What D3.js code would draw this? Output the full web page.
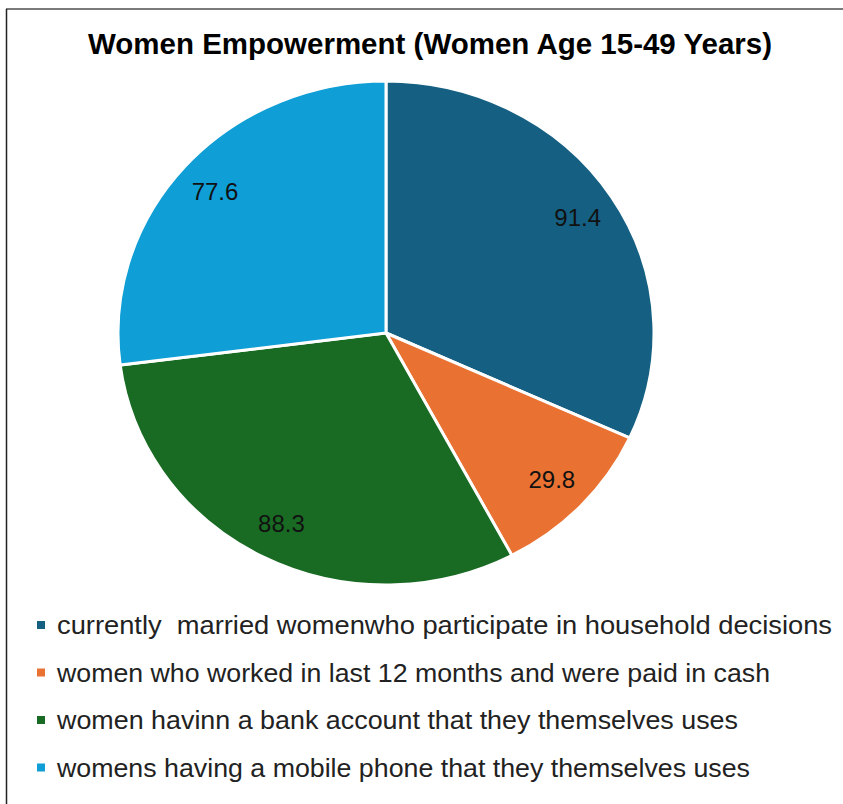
<!DOCTYPE html>
<html>
<head>
<meta charset="utf-8">
<script src="https://cdn.jsdelivr.net/npm/d3@7"></script>
<style>
  body { margin: 0; background: #fff; }
  svg { display: block; }
  text { white-space: pre; }
</style>
</head>
<body>
<div id="chart"></div>
<script>
// chart data
const title = "Women Empowerment (Women Age 15-49 Years)";
const categories = [
  "currently  married womenwho participate in household decisions",
  "women who worked in last 12 months and were paid in cash",
  "women havinn a bank account that they themselves uses",
  "womens having a mobile phone that they themselves uses"
];
const values = [91.4, 29.8, 88.3, 77.6];
const colors = ["#156082", "#E97132", "#196B24", "#0F9ED5"];

const width = 843, height = 804;
const cx = 386, cy = 333;
const rx = 268, ry = 252;   // pie looks a little squashed in the picture

const svg = d3.select("#chart").append("svg")
  .attr("width", width)
  .attr("height", height);

// chart frame (only top and left edges show)
svg.append("line")
  .attr("x1", 6).attr("y1", 9).attr("x2", width).attr("y2", 9)
  .attr("stroke", "#7a7a7a").attr("stroke-width", 2);
svg.append("line")
  .attr("x1", 6.5).attr("y1", 9).attr("x2", 6.5).attr("y2", height)
  .attr("stroke", "#222").attr("stroke-width", 1.5);

// title
svg.append("text")
  .attr("x", 430)
  .attr("y", 54)
  .attr("text-anchor", "middle")
  .attr("textLength", 684)
  .attr("lengthAdjust", "spacingAndGlyphs")
  .style("font-family", "'Liberation Sans Narrow', 'Liberation Sans', Arial, sans-serif")
  .style("font-weight", "bold")
  .style("font-size", "29px")
  .style("fill", "#000")
  .text(title);

// pie
const pie = d3.pie().sort(null).value(d => d);
const arcs = pie(values);
const arc = d3.arc().innerRadius(0).outerRadius(rx);
const labelArc = d3.arc().innerRadius(rx * 0.85).outerRadius(rx * 0.85);

const g = svg.append("g")
  .attr("transform", `translate(${cx},${cy}) scale(1,${ry / rx})`);

g.selectAll("path")
  .data(arcs)
  .enter()
  .append("path")
  .attr("d", arc)
  .attr("fill", (d, i) => colors[i])
  .attr("stroke", "#fff")
  .attr("stroke-width", 3)
  .attr("vector-effect", "non-scaling-stroke");

// data labels (kept out of the scaled group so text isn't squashed)
svg.selectAll(".dlabel")
  .data(arcs)
  .enter()
  .append("text")
  .attr("class", "dlabel")
  .attr("x", d => cx + labelArc.centroid(d)[0])
  .attr("y", d => cy + labelArc.centroid(d)[1] * ry / rx)
  .attr("text-anchor", "middle")
  .attr("dominant-baseline", "central")
  .style("font-family", "'Liberation Sans', Arial, sans-serif")
  .style("font-size", "24px")
  .style("fill", "#111")
  .text(d => d.data.toFixed(1));

// legend
const legendWidths = [775, 713, 681, 693];
const legend = svg.selectAll(".legend")
  .data(categories)
  .enter()
  .append("g")
  .attr("class", "legend")
  .attr("transform", (d, i) => `translate(37,${625 + i * 47.5})`);

legend.append("rect")
  .attr("x", 0).attr("y", -4)
  .attr("width", 8).attr("height", 8)
  .attr("fill", (d, i) => colors[i]);

legend.append("text")
  .attr("x", 20)
  .attr("y", 0)
  .attr("dominant-baseline", "central")
  .attr("textLength", (d, i) => legendWidths[i])
  .attr("lengthAdjust", "spacingAndGlyphs")
  .style("font-family", "'Liberation Sans Narrow', 'Liberation Sans', Arial, sans-serif")
  .style("font-size", "26px")
  .style("fill", "#222")
  .text(d => d);
</script>
</body>
</html>
